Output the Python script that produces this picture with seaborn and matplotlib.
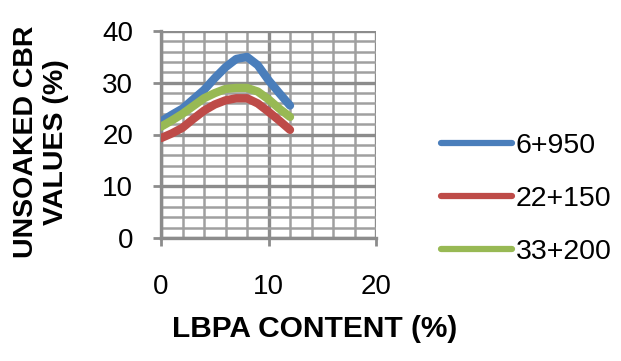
import matplotlib
matplotlib.use("Agg")
import matplotlib.pyplot as plt
import seaborn as sns
import pandas as pd
from matplotlib.ticker import MultipleLocator

# data
lbpa = [0, 1, 2, 3, 4, 5, 6, 7, 8, 9, 10, 11, 12]
s_6950 = [22.5, 23.8, 25.0, 26.8, 28.6, 30.9, 33.0, 34.6, 35.0, 33.4, 30.5, 28.0, 25.6]
s_22150 = [19.3, 20.2, 21.3, 23.0, 24.6, 25.8, 26.6, 27.0, 27.0, 26.0, 24.4, 22.7, 20.9]
s_33200 = [21.5, 22.7, 24.0, 25.5, 27.0, 28.0, 28.8, 29.0, 29.0, 28.3, 26.8, 25.0, 23.4]
series_names = ["6+950", "22+150", "33+200"]
colors = ["#4A7EBB", "#BE4B48", "#98B954"]
x_ticks = [0, 10, 20]
y_ticks = [0, 10, 20, 30, 40]

rows = []
for name, vals in zip(series_names, [s_6950, s_22150, s_33200]):
    for x, v in zip(lbpa, vals):
        rows.append({"x": x, "y": v, "series": name})
df = pd.DataFrame(rows)

sns.set_style("white")
plt.rcParams['font.family'] = ['Liberation Sans', 'DejaVu Sans']
plt.rcParams['text.color'] = 'black'
plt.rcParams['xtick.labelcolor'] = 'black'
plt.rcParams['ytick.labelcolor'] = 'black'

fig = plt.figure(figsize=(6.21, 3.61), dpi=100)
ax = fig.add_axes([161/621, 1-238/361, (376-161)/621, (238-31)/361])

sns.lineplot(data=df, x="x", y="y", hue="series", palette=colors, hue_order=series_names,
             linewidth=6, ax=ax, solid_capstyle="round", solid_joinstyle="round", legend=True, zorder=3)

ax.set_xlim(0, 20)
ax.set_ylim(0, 40)
ax.set_xticks(x_ticks)
ax.set_yticks(y_ticks)
ax.xaxis.set_minor_locator(MultipleLocator(2))
ax.yaxis.set_minor_locator(MultipleLocator(2))
ax.grid(which="major", color="#8c8c8c", linewidth=2.4, zorder=0)
ax.grid(which="minor", color="#a0a0a0", linewidth=1.8, zorder=0)
ax.set_axisbelow(True)
for s in ["top", "right"]:
    ax.spines[s].set_visible(False)
for s in ["left", "bottom"]:
    ax.spines[s].set_color("#8c8c8c")
    ax.spines[s].set_linewidth(2.4)
ax.tick_params(axis="both", which="major", length=6, width=2, color="#8c8c8c",
               labelsize=20, direction="out", left=True, bottom=True, labelcolor="black")
ax.tick_params(axis="y", which="major", pad=14)
ax.tick_params(axis="x", which="major", pad=20)
ax.tick_params(which="minor", length=0)
ax.set_xlabel("")
ax.set_ylabel("")

fig.text(315/621, 1-329/361, "LBPA CONTENT (%)", fontsize=21.5, fontweight="bold",
         ha="center", va="center", color="black")
fig.text(41/621, 1-142/361, "UNSOAKED CBR\nVALUES (%)", fontsize=20.5, fontweight="bold",
         ha="center", va="center", rotation=90, linespacing=1.2, color="black")

leg = ax.legend(loc="center left", bbox_to_anchor=(441/621, 1-199/361),
                bbox_transform=fig.transFigure, frameon=False, fontsize=20.5,
                handlelength=2.5, handletextpad=0.12, labelspacing=0.95, borderpad=0,
                borderaxespad=0)
for t in leg.get_texts():
    t.set_color("black")
for line in leg.get_lines():
    line.set_linewidth(4.5)

fig.savefig("out.png", dpi=100)
